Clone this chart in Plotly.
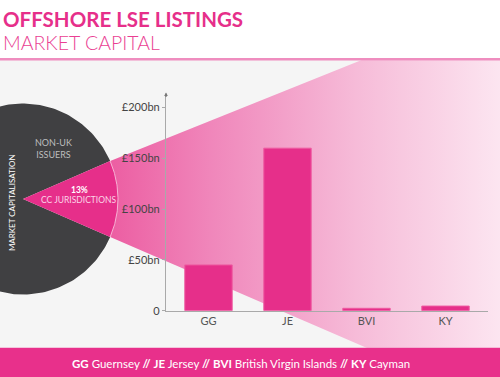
import math
import plotly.graph_objects as go

# ---------------- data ----------------
categories = ["GG", "JE", "BVI", "KY"]
market_cap_bn = [45, 160, 2.3, 4.5]
y_tick_values = [0, 50, 100, 150, 200]
y_tick_labels = ["0", "£50bn", "£100bn", "£150bn", "£200bn"]
pie_labels = ["NON-UK<br>ISSUERS", "CC JURISDICTIONS"]
pie_shares = [87, 13]
footer_codes = ["GG", "JE", "BVI", "KY"]
footer_names = ["Guernsey", "Jersey", "British Virgin Islands", "Cayman"]

# ---------------- style / layout ----------------
W, H = 500, 377          # design size (reference pixels)
HF = 385                 # figure height (viewport capture is scaled to 377)
SY = HF / H
PINK = "#e62f8a"
DARK = "#404042"
FONT = "Lato"

def px(x, y):
    return x / W, 1 - (y * SY) / HF

# pie geometry (reference pixel space)
cx, cy, R = 23, 198, 95
share = pie_shares[1] / sum(pie_shares)
half = share * math.pi  # half of the wedge angle

def arc(a0, a1, n=80):
    pts = []
    for i in range(n + 1):
        a = a0 + (a1 - a0) * i / n
        pts.append((cx + R * math.cos(a), cy - R * math.sin(a)))
    return pts

fig = go.Figure()

# funnel from wedge arc endpoints to the right (behind everything)
p_top = (cx + R * math.cos(half), cy - R * math.sin(half))
p_bot = (cx + R * math.cos(half), cy + R * math.sin(half))
x_end = 520
top_slope, bot_slope = -0.40, 0.43
fx = [p_top[0], x_end, x_end, p_bot[0], p_top[0]]
fy = [p_top[1], p_top[1] + top_slope * (x_end - p_top[0]),
      p_bot[1] + bot_slope * (x_end - p_bot[0]), p_bot[1], p_top[1]]
fig.add_trace(go.Scatter(
    x=fx, y=fy, mode="lines", fill="toself", line=dict(width=0),
    fillgradient=dict(type="horizontal",
                      colorscale=[[0, "#ec5ea2"], [0.25, "#f087bb"],
                                  [0.6, "#f6bbd8"], [1, "#fdebf4"]]),
    hoverinfo="skip", showlegend=False, xaxis="x", yaxis="y"))

# dark slice (non-UK issuers)
dark = [(cx, cy)] + arc(half, 2 * math.pi - half, 200) + [(cx, cy)]
fig.add_trace(go.Scatter(
    x=[p[0] for p in dark], y=[p[1] for p in dark], mode="lines",
    fill="toself", fillcolor=DARK, line=dict(width=0),
    hoverinfo="skip", showlegend=False, xaxis="x", yaxis="y"))

# pink wedge (CC jurisdictions)
wedge = [(cx, cy)] + arc(-half, half, 60) + [(cx, cy)]
fig.add_trace(go.Scatter(
    x=[p[0] for p in wedge], y=[p[1] for p in wedge], mode="lines",
    fill="toself", fillcolor=PINK, line=dict(width=0),
    hoverinfo="skip", showlegend=False, xaxis="x", yaxis="y"))
warc = arc(-half, half, 60)
fig.add_trace(go.Scatter(
    x=[p[0] for p in warc], y=[p[1] for p in warc], mode="lines",
    line=dict(width=1, color="#f7b2d4"),
    hoverinfo="skip", showlegend=False, xaxis="x", yaxis="y"))

# bars
fig.add_trace(go.Bar(
    x=categories, y=market_cap_bn, width=0.6,
    marker=dict(color=PINK, line=dict(color="#ee5aa0", width=1)),
    hoverinfo="skip", showlegend=False, xaxis="x2", yaxis="y2"))

# background axes (reference pixel coordinates), clipped between header line and footer
bx0, by0 = px(0, 346)
bx1, by1 = px(W, 60)
ax_x0, ax_y0 = px(166, 309)
ax_x1, ax_y1 = px(488, 95)
ppu = (309 - 107) / 200.0  # pixels per bn
ymax = (309 - 95) / ppu
cat_px = 79.0
xr0 = -(208.5 - 166) / cat_px
xr1 = xr0 + (488 - 166) / cat_px

fig.update_layout(
    width=W, height=HF, margin=dict(l=0, r=0, t=0, b=0),
    paper_bgcolor="white", plot_bgcolor="rgba(0,0,0,0)",
    font=dict(family=FONT, color="#444"),
    xaxis=dict(domain=[0, 1], range=[0, W], visible=False, fixedrange=True),
    yaxis=dict(domain=[by0, by1], range=[346, 60], visible=False, fixedrange=True),
    xaxis2=dict(domain=[ax_x0, ax_x1], range=[xr0, xr1], anchor="y2",
                showline=True, linecolor="#a9a9a9", linewidth=1.2,
                showgrid=False, zeroline=False, ticks="",
                tickfont=dict(size=11, color="#555", family=FONT),
                fixedrange=True),
    yaxis2=dict(domain=[ax_y0, ax_y1], range=[0, ymax], anchor="x2",
                showline=True, linecolor="#a9a9a9", linewidth=1.2,
                showgrid=False, zeroline=False,
                tickvals=y_tick_values, ticktext=y_tick_labels,
                ticks="outside", ticklen=3, tickcolor="#a9a9a9",
                tickfont=dict(size=11, color="#444", family=FONT),
                fixedrange=True),
    bargap=0.4,
)

shapes = []
# textured background approximated by flat light grey
x0p, y0p = px(0, 346)
x1p, y1p = px(W, 59)
shapes.append(dict(type="rect", xref="paper", yref="paper", x0=0, x1=1,
                   y0=y0p, y1=y1p, fillcolor="#f5f5f5", line=dict(width=0),
                   layer="below"))
# header line
_, ly = px(0, 59)
shapes.append(dict(type="line", xref="paper", yref="paper", x0=0, x1=1,
                   y0=ly, y1=ly, line=dict(color="#ef8dbf", width=2.5)))
# footer
_, fy0 = px(0, 346)
shapes.append(dict(type="rect", xref="paper", yref="paper", x0=0, x1=1,
                   y0=-0.01, y1=fy0, fillcolor="#e8308b", line=dict(width=0)))
fig.update_layout(shapes=shapes)

ann = []
def text(x, y, t, size, color, xanchor="center", yanchor="middle", angle=0, family=FONT):
    xp, yp = px(x, y)
    ann.append(dict(xref="paper", yref="paper", x=xp, y=yp, text=t,
                    showarrow=False, xanchor=xanchor, yanchor=yanchor,
                    textangle=angle, borderpad=0,
                    font=dict(size=size, color=color, family=family)))

text(2, 19, "<b>OFFSHORE LSE LISTINGS</b>", 20.5, "#e62f8a", xanchor="left")
text(2, 42, "MARKET CAPITAL", 19.5, "#ea3f93", xanchor="left", family="Lato Light, Lato")
text(53, 148, pie_labels[0], 9, "#bdbdbd")
text(79, 189, "<b>%d%%</b>" % pie_shares[1], 8.5, "white")
text(79, 199, pie_labels[1], 8.5, "#fbd3e6")
text(12, 202, "MARKET CAPITALISATION", 8, "white", angle=-90)
footer = " <b>//</b> ".join("<b>%s</b> %s" % (c, n) for c, n in zip(footer_codes, footer_names))
text(241, 362, footer, 11.5, "white")

# arrow tip at top of y-axis
axp, ayp = px(166, 92)
ann.append(dict(xref="paper", yref="paper", x=axp, y=ayp, ax=0, ay=6,
                text="", showarrow=True, arrowhead=2, arrowsize=0.6,
                arrowwidth=1.2, arrowcolor="#777"))
fig.update_layout(annotations=ann)

post = (
    "document.documentElement.style.margin='0px';"
    "document.documentElement.style.overflow='hidden';"
    "document.body.style.margin='0px';"
    "document.body.style.overflow='hidden';"
    "var gd=document.getElementsByClassName('plotly-graph-div')[0];"
    "gd.style.position='fixed';gd.style.left='0px';gd.style.top='0px';"
)
fig.write_html("out.html", post_script=post, config={"displayModeBar": False})
